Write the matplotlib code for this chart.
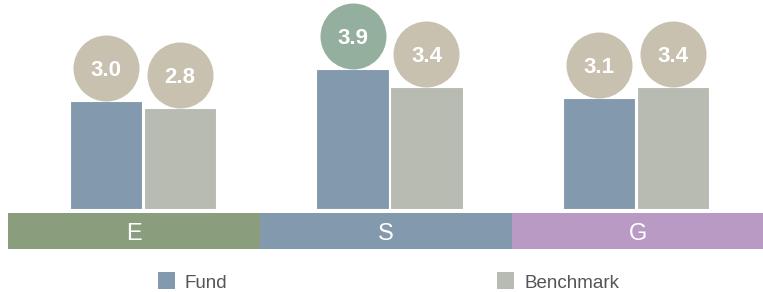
import matplotlib
matplotlib.use("Agg")
import matplotlib.pyplot as plt
from matplotlib.patches import Rectangle
from matplotlib.transforms import offset_copy

categories = ["E", "S", "G"]
fund = [3.0, 3.9, 3.1]
benchmark = [2.8, 3.4, 3.4]
series_names = ["Fund", "Benchmark"]

fund_color = "#8399AE"
bench_color = "#B8BBB1"
circle_fund = ["#C8C1AF", "#94AF9D", "#C8C1AF"]
circle_bench = ["#C8C1AF", "#C8C1AF", "#C8C1AF"]
band_colors = ["#8A9E7E", "#8299AE", "#B99AC5"]

W, H = 763, 292
dpi = 100
fig = plt.figure(figsize=(W / dpi, H / dpi), dpi=dpi)
plt.rcParams['font.family'] = ['Liberation Sans', 'DejaVu Sans']

def fx(px):
    return px / W

def fy(py):
    return 1 - py / H

# Bars axes
left, right = 19.75, 759.25
base, top = 209, 0
ax = fig.add_axes([fx(left), fy(base), fx(right - left), (base - top) / H])
ax.set_xlim(-0.5, 2.5)
ax.set_ylim(0, 209 / 35.9)
ax.axis("off")

xs = list(range(len(categories)))
off = 0.150
bw = 0.294
ax.bar([x - off for x in xs], fund, width=bw, color=fund_color, edgecolor="white", linewidth=0.8)
ax.bar([x + off for x in xs], benchmark, width=bw, color=bench_color, edgecolor="white", linewidth=0.8)

r = 33
tr = offset_copy(ax.transData, fig=fig, x=0, y=r, units='dots')
size = (2 * r * 72 / dpi) ** 2
for i, x in enumerate(xs):
    for dx, v, c in ((-off, fund[i], circle_fund[i]), (off, benchmark[i], circle_bench[i])):
        ax.scatter([x + dx], [v], s=size, color=c, transform=tr, clip_on=False, zorder=3, linewidths=0)
        ax.text(x + dx, v, f"{v:.1f}", transform=tr, ha="center", va="center_baseline",
                color="white", fontsize=16, fontweight="bold", zorder=4)

# Category band axes
bax = fig.add_axes([fx(8), fy(249), fx(764 - 8), 36 / H])
bax.set_xlim(-0.5, 2.5)
bax.set_ylim(0, 1)
bax.axis("off")
for i, cat in enumerate(categories):
    bax.bar(i, 1, width=1.0, bottom=0, color=band_colors[i], linewidth=0)
    bax.text(i, 0.5, cat, ha="center", va="center_baseline", color="white", fontsize=17)

# Legend
leg = [(158, series_names[0], fund_color), (497, series_names[1], bench_color)]
for px, name, c in leg:
    fig.patches.append(Rectangle((fx(px), fy(289)), fx(17), 17 / H, transform=fig.transFigure,
                                 color=c, linewidth=0))
    fig.text(fx(px + 27), fy(281), name, ha="left", va="center_baseline", fontsize=13.5, color="#555555")

fig.savefig("out.png", dpi=dpi)
